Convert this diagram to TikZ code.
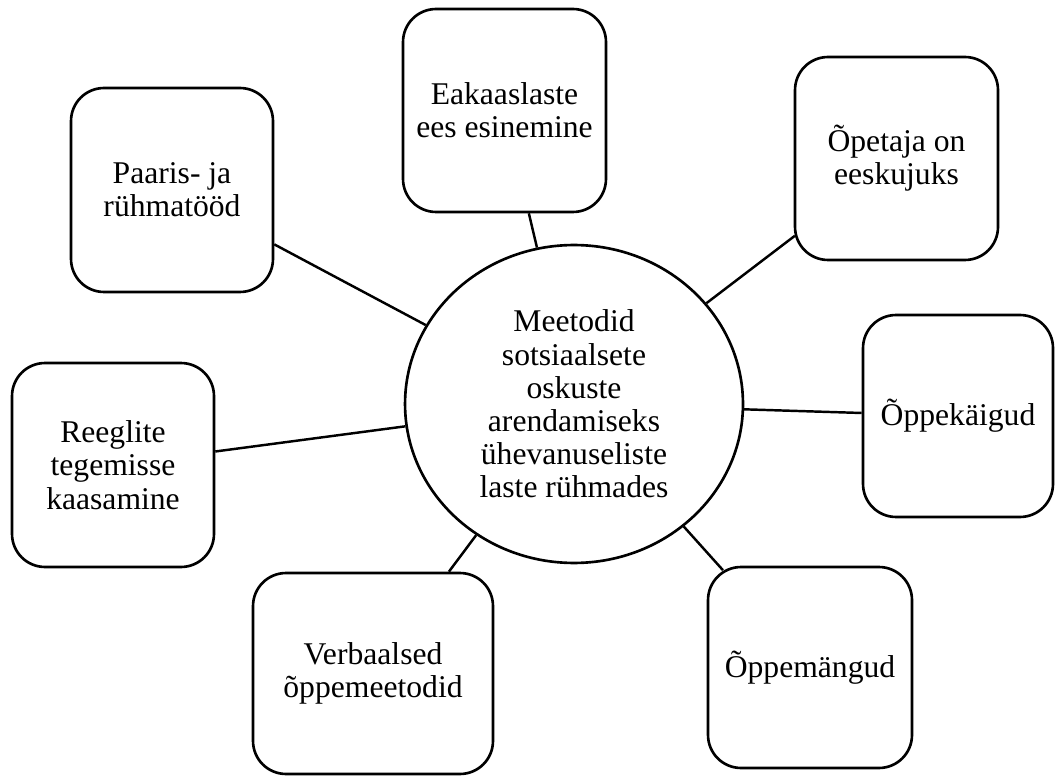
\documentclass[tikz,border=0pt]{standalone}
\usepackage{fontspec}
\setmainfont{Liberation Serif}
\usetikzlibrary{shapes.geometric}

\begin{document}
\begin{tikzpicture}[x=0.02cm,y=-0.02cm,
    kast/.style={draw, line width=1.5pt, rounded corners=0.66cm, align=center, inner sep=0pt,
        font=\fontsize{18}{18.9}\selectfont},
    kesk/.style={draw, ellipse, line width=1.5pt, minimum width=6.76cm, minimum height=6.36cm,
        inner sep=0pt, align=center, font=\fontsize{18}{18.9}\selectfont},
    joon/.style={line width=1.4pt}]
                \useasboundingbox (0,0) rectangle (1057,776);
                \node[kesk](meetodid) at (574,404) {Meetodid\\sotsiaalsete\\oskuste\\arendamiseks\\ühevanuseliste\\laste rühmades};
                \node[kast, minimum width=4.06cm, minimum height=4.06cm](esinemine) at (504.5,110.5) {Eakaaslaste\\ees esinemine};
                \node[kast, minimum width=4.04cm, minimum height=4.08cm](paaristood) at (172,190) {Paaris- ja\\rühmatööd};
                \node[kast, minimum width=4.06cm, minimum height=4.06cm](eeskuju) at (896.5,158.5) {Õpetaja on\\eeskujuks};
                \node[kast, minimum width=3.80cm, minimum height=4.04cm](oppekaigud) at (958,416) {Õppekäigud};
                \node[kast, minimum width=4.04cm, minimum height=4.08cm](reeglid) at (113,465) {Reeglite\\tegemisse\\kaasamine};
                \node[kast, minimum width=4.80cm, minimum height=4.02cm](verbaalsed) at (373,673.5) {Verbaalsed\\õppemeetodid};
                \node[kast, minimum width=4.08cm, minimum height=4.02cm](oppemangud) at (810,667.5) {Õppemängud};
                \draw[joon](esinemine)--(meetodid);
                \draw[joon](paaristood)--(meetodid);
                \draw[joon, shorten <=-0.03cm](eeskuju)--(meetodid);
                \draw[joon](oppekaigud)--(meetodid);
                \draw[joon](reeglid)--(meetodid);
                \draw[joon](verbaalsed)--(meetodid);
                \draw[joon, shorten <=-0.12cm](oppemangud)--(meetodid);
            \end{tikzpicture}
\end{document}
